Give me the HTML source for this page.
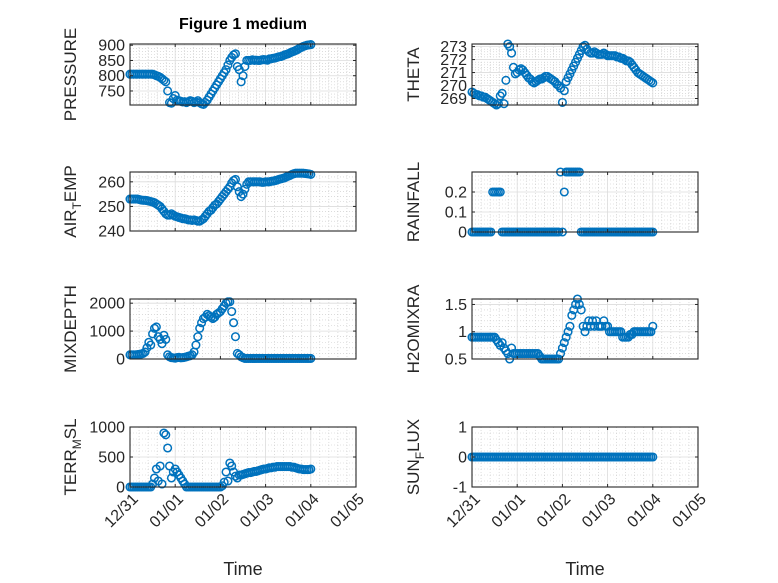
<!DOCTYPE html>
<html><head><meta charset="utf-8"><style>
body{margin:0;background:#fff}
svg{display:block;font-family:"Liberation Sans","DejaVu Sans",sans-serif}
</style></head><body>
<svg id="fig" width="778" height="583" viewBox="0 0 778 583" xmlns="http://www.w3.org/2000/svg">
<rect width="778" height="583" fill="#fff"/>
<text x="243" y="29" text-anchor="middle" font-size="16" font-weight="bold" fill="#000">Figure 1 medium</text>
</svg>
<script>
const xTickLabels=["12/31","01/01","01/02","01/03","01/04","01/05"];
const pressure=[805,805,805,805,805,805,805,805,805,805,805,805,805,
803,800,798,795,790,785,780,750,
712,710,725,735,720,718,716,714,715,712,715,718,716,712,714,718,712,708,706,
712,720,730,740,750,760,770,780,790,800,810,820,835,850,860,868,872,
830,820,780,800,830,850,
850,850,852,850,851,850,850,852,853,852,851,855,856,857,858,860,862,863,865,868,870,872,
875,878,880,883,886,890,893,896,898,900,901,902];
const airTemp=[253,253,253,253,253,252.8,252.6,252.5,252.5,252.4,252.2,252,251.8,
251.5,251,250.5,250,249,248,247,246.5,246.5,247,246.5,246,
245.8,245.5,245.3,245,245,244.8,244.5,244.5,244.3,244.5,244.3,244,244,244.5,245,246,
247,248,248.5,249.5,250.5,251,252,253,254,255,256,257,258,259.5,260.5,261,
258,256,254,255,257,259,
260,260,260,260,260,260,260,259.8,259.8,260,260,260,260.2,260.3,260.5,260.7,261,261.2,261.4,261.6,262,262.3,
262.6,263,263.3,263.5,263.5,263.5,263.5,263.5,263.4,263.3,263.2,263];
const mixDepth=[150,150,150,150,160,170,180,200,250,
400,600,500,900,1100,1150,800,700,550,850,700,
150,80,50,40,30,50,60,40,50,60,80,100,120,150,
250,500,800,1100,1300,1450,1500,1600,1550,1500,1450,1500,1600,1650,1700,1800,1900,2000,2050,2050,
1700,1300,800,200,150,80,50,
20,20,20,20,20,20,20,20,20,20,20,20,20,20,20,20,20,20,20,20,20,20,20,20,20,20,20,20,20,20,20,20,20,20,20,20];
const terrMsl=[0,0,0,0,0,0,0,0,0,0,0,0,
50,150,300,100,350,50,900,870,650,350,150,250,300,250,200,150,100,50,
0,0,0,0,0,0,0,0,0,0,0,0,0,0,0,0,0,0,0,
20,80,250,100,400,350,250,180,150,200,
200,210,220,230,240,240,250,260,260,270,280,290,300,300,310,320,320,330,330,340,340,340,340,340,340,340,340,330,330,320,310,300,300,290,290,290,290,300];
const theta=[269.5,269.4,269.3,269.3,269.2,269.2,269.1,269.1,269.0,268.9,268.8,268.7,268.6,268.5,
268.6,269.2,269.4,268.6,270.4,273.2,273.0,272.5,271.4,
270.9,271.0,271.2,271.3,271.2,271.0,270.8,270.6,270.5,270.3,
270.2,270.3,270.4,270.5,270.5,270.6,270.7,270.7,270.6,270.5,270.4,270.3,270.1,270.0,
269.8,268.7,269.6,270.3,
270.6,270.9,271.2,271.5,271.8,272.1,272.4,272.7,273.0,273.1,272.8,272.6,
272.5,272.5,272.6,272.5,272.4,272.4,272.4,272.5,272.4,272.3,272.3,272.3,272.3,272.3,272.2,272.2,272.1,272.1,272.0,271.9,271.9,271.8,
271.6,271.4,271.2,271.0,270.9,270.8,270.7,270.6,270.5,270.4,270.3,270.2];
const rainfall=[0,0,0,0,0,0,0,0,0,0,0,
0.2,0.2,0.2,0.2,0.2,
0,0,0,0,0,0,0,0,0,0,0,0,0,0,0,0,0,0,0,0,0,0,0,0,0,0,0,0,0,0,0,
0.3,0,0.2,
0.3,0.3,0.3,0.3,0.3,0.3,0.3,0.3,
0,0,0,0,0,0,0,0,0,0,0,0,0,0,0,0,0,0,0,0,0,0,0,0,0,0,0,0,0,0,0,0,0,0,0,0,0,0,0];
const h2oMix=[0.9,0.9,0.9,0.9,0.9,0.9,0.9,0.9,0.9,0.9,0.9,0.9,0.9,0.85,0.8,
0.75,0.8,0.7,0.65,0.6,0.5,
0.7,0.6,0.6,0.6,0.6,0.6,0.6,0.6,0.6,0.6,0.6,0.6,0.6,0.6,0.6,0.55,
0.5,0.5,0.5,0.5,0.5,0.5,0.5,0.5,0.5,0.5,
0.6,0.7,0.8,0.9,1.0,1.1,1.3,1.4,1.5,1.6,
1.5,1.4,1.1,1.0,1.1,1.2,1.1,1.2,1.1,1.2,
1.1,1.1,1.1,1.2,1.1,1.1,1.0,1.0,1.0,1.0,1.0,1.0,1.0,0.9,
0.9,0.9,0.9,0.95,0.95,1.0,1.0,1.0,1.0,1.0,1.0,1.0,1.0,1.0,1.0,1.1];
const sunFlux=new Array(97).fill(0);

const NS="http://www.w3.org/2000/svg";
const svg=document.getElementById('fig');
function mk(tag,attrs,parent){const e=document.createElementNS(NS,tag);for(const k in attrs)e.setAttribute(k,attrs[k]);(parent||svg).appendChild(e);return e;}

const panels=[
 {name:'pressure',data:pressure,x0:130,x1:356,y0:44,y1:105,min:704,max:904,ticks:[750,800,850,900],minorStep:10,label:['PRESSURE'],lx:76,xl:false},
 {name:'theta',data:theta,x0:472,x1:698,y0:44,y1:105,min:268.5,max:273.2,ticks:[269,270,271,272,273],minorStep:0.2,label:['THETA'],lx:419,xl:false},
 {name:'air-temp',data:airTemp,x0:130,x1:356,y0:172,y1:231,min:240,max:264,ticks:[240,250,260],minorStep:2,label:['AIR','T','EMP'],lx:76,xl:false},
 {name:'rainfall',data:rainfall,x0:472,x1:698,y0:172,y1:232,min:0,max:0.3,ticks:[0,0.1,0.2],minorStep:0.02,label:['RAINFALL'],lx:419,xl:false},
 {name:'mixdepth',data:mixDepth,x0:130,x1:356,y0:299,y1:359,min:0,max:2150,ticks:[0,1000,2000],minorStep:200,label:['MIXDEPTH'],lx:76,xl:false},
 {name:'h2omixra',data:h2oMix,x0:472,x1:698,y0:299,y1:359,min:0.5,max:1.6,ticks:[0.5,1,1.5],minorStep:0.1,label:['H2OMIXRA'],lx:419,xl:false},
 {name:'terr-msl',data:terrMsl,x0:130,x1:356,y0:427,y1:487,min:0,max:1000,ticks:[0,500,1000],minorStep:100,label:['TERR','M','SL'],lx:76,xl:true},
 {name:'sunflux',data:sunFlux,x0:472,x1:698,y0:427,y1:487,min:-1,max:1,ticks:[-1,0,1],minorStep:0.2,label:['SUN','F','LUX'],lx:419,xl:true}
];

panels.forEach(p=>{
  const g=mk('g',{});
  
  
  const xs=d=>p.x0+(d/5)*(p.x1-p.x0);
  const ys=v=>p.y1-(v-p.min)/(p.max-p.min)*(p.y1-p.y0);
  mk('rect',{x:p.x0,y:p.y0,width:p.x1-p.x0,height:p.y1-p.y0,fill:'#fff'},g);
  for(let d=0.2;d<5;d+=0.2){if(Math.abs(d-Math.round(d))<1e-6)continue;const x=xs(d);mk('line',{x1:x,x2:x,y1:p.y0,y2:p.y1,stroke:'#c8c8c8','stroke-width':0.6,'stroke-dasharray':'1,2'},g);}
  const st=Math.ceil(p.min/p.minorStep);
  for(let k=st;k*p.minorStep<=p.max+1e-9;k++){const v=k*p.minorStep;if(p.ticks.some(t=>Math.abs(t-v)<1e-9))continue;const y=ys(v);mk('line',{x1:p.x0,x2:p.x1,y1:y,y2:y,stroke:'#c8c8c8','stroke-width':0.6,'stroke-dasharray':'1,2'},g);}
  for(let d=1;d<5;d++){const x=xs(d);mk('line',{x1:x,x2:x,y1:p.y0,y2:p.y1,stroke:'#dcdcdc','stroke-width':0.8},g);}
  p.ticks.forEach(t=>{const y=ys(t);mk('line',{x1:p.x0,x2:p.x1,y1:y,y2:y,stroke:'#dcdcdc','stroke-width':0.8},g);});
  p.data.forEach((v,i)=>{
    const c=mk('circle',{cx:xs(i/24),cy:ys(v),r:3.8,fill:'none',stroke:'#0072BD','stroke-width':1.5},g);
    
    
  });
  mk('rect',{x:p.x0,y:p.y0,width:p.x1-p.x0,height:p.y1-p.y0,fill:'none',stroke:'#262626','stroke-width':1.1},g);
  for(let d=0;d<=5;d++){const x=xs(d);mk('line',{x1:x,x2:x,y1:p.y1,y2:p.y1-3,stroke:'#262626'},g);mk('line',{x1:x,x2:x,y1:p.y0,y2:p.y0+3,stroke:'#262626'},g);}
  p.ticks.forEach(t=>{const y=ys(t);mk('line',{x1:p.x0,x2:p.x0+3,y1:y,y2:y,stroke:'#262626'},g);mk('line',{x1:p.x1,x2:p.x1-3,y1:y,y2:y,stroke:'#262626'},g);
    const tx=mk('text',{x:p.x0-5,y:y+5.5,'text-anchor':'end','font-size':16,fill:'#262626'},g);tx.textContent=String(t);
    });
  const lab=mk('text',{x:0,y:0,'text-anchor':'middle','font-size':17,fill:'#262626',transform:`translate(${p.lx},${(p.y0+p.y1)/2}) rotate(-90)`},g);
  
  
  if(p.label.length===1){lab.textContent=p.label[0];}
  else{const a=mk('tspan',{},lab);a.textContent=p.label[0];const b=mk('tspan',{dy:5,'font-size':12},lab);b.textContent=p.label[1];const c=mk('tspan',{dy:-5},lab);c.textContent=p.label[2];}
  if(p.xl){
    xTickLabels.forEach((s,d)=>{const x=xs(d);const t=mk('text',{x:0,y:0,'text-anchor':'end','font-size':16,fill:'#262626',transform:`translate(${x+9},${p.y1+13}) rotate(-45)`},g);t.textContent=s;
      });
    const xt=mk('text',{x:(p.x0+p.x1)/2,y:575,'text-anchor':'middle','font-size':18,fill:'#262626'},g);xt.textContent='Time';
    
  }
});
</script>
</body></html>
